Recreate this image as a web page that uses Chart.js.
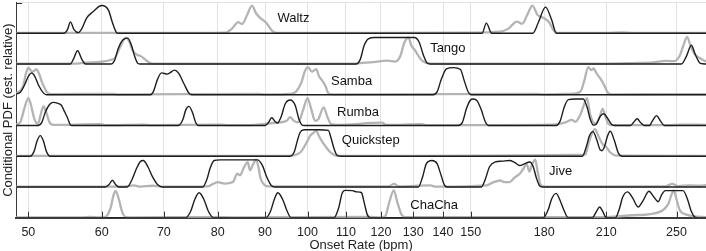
<!DOCTYPE html>
<html>
<head>
<meta charset="utf-8">
<script src="https://cdn.jsdelivr.net/npm/chart.js@4/dist/chart.umd.min.js"></script>
<style>
    html, body { margin: 0; padding: 0; background: #fff; }
    #chart { display: block; }
</style>
</head>
<body>
<canvas id="chart" width="706" height="251"></canvas>
<script>
// onset rate axis (bpm)
const xTicks = [50, 60, 70, 80, 90, 100, 110, 120, 130, 140, 150, 180, 210, 250];
const xMin = 48.5;
const xMax = 269;

// dances, top to bottom
const dances = ["Waltz", "Tango", "Samba", "Rumba", "Quickstep", "Jive", "ChaCha"];

// [bpm, relative density]; black = estimate, gray = reference
const waltzBlack = [[48.5, 0], [54.6, 0], [55.1, 0.12], [55.5, 0.37], [56.0, 0.12], [56.6, 0.02], [57.1, 0.15], [57.8, 0.5], [58.7, 0.7], [60.0, 0.9], [61.0, 0.75], [61.6, 0.35], [62.2, 0.03], [62.5, 0],
    [154.3, 0], [155.9, 0.33], [158.0, 0], [175.0, 0], [177.4, 0.35], [180.6, 0.85], [183.3, 0.45], [185.5, 0], [269, 0]];
const waltzGray = [[48.5, 0.01], [70, 0.01], [81.5, 0.02], [82.9, 0.15], [84.2, 0.36], [85.0, 0.3], [86.1, 0.6], [87.1, 0.9], [88.0, 0.65], [88.9, 0.5], [90.2, 0.35], [91.6, 0.08], [92.8, 0.01],
    [120, 0.01], [150, 0.02], [161.2, 0.05], [164.7, 0.15], [168.2, 0.38], [170.5, 0.31], [172.6, 0.6], [174.8, 0.9], [177.0, 0.6], [180.0, 0.49], [182.3, 0.35], [184.0, 0.12], [186.0, 0.01], [210, 0.01], [218, 0.03], [225, 0.01], [269, 0.01]];

const tangoBlack = [[48.5, 0], [55.5, 0], [55.9, 0.15], [56.5, 0.43], [57.1, 0.15], [57.6, 0], [61.4, 0], [61.9, 0.1], [62.5, 0.5], [63.2, 0.78], [64.0, 0.84], [64.6, 0.6], [65.1, 0.25], [65.6, 0.02], [65.9, 0],
    [112.8, 0], [114.0, 0.15], [115.1, 0.6], [116.3, 0.82], [118.1, 0.86], [124.4, 0.86], [130.4, 0.86], [132.0, 0.7], [133.3, 0.3], [134.6, 0.03], [135.6, 0],
    [253.1, 0], [256.2, 0.25], [259.4, 0.61], [262.0, 0.3], [265.3, 0.02], [269, 0]];
const tangoGray = [[48.5, 0.01], [56.1, 0.01], [57.6, 0.04], [59.8, 0.07], [61.3, 0.13], [62.0, 0.2], [62.8, 0.55], [63.7, 0.86], [64.2, 0.75], [64.8, 0.43], [65.5, 0.3], [66.0, 0.27], [66.8, 0.15], [67.7, 0.03], [68.5, 0.01],
    [112, 0.01], [114.0, 0.03], [117.8, 0.06], [121.9, 0.11], [124.4, 0.08], [125.9, 0.25], [127.2, 0.7], [128.5, 0.86], [129.4, 0.6], [130.7, 0.43], [131.8, 0.25], [133.0, 0.1], [135.6, 0.01],
    [206.9, 0.01], [224.7, 0.03], [235.7, 0.05], [243.8, 0.1], [248.2, 0.09], [252.0, 0.27], [254.3, 0.6], [256.7, 0.88], [258.8, 0.6], [261.4, 0.33], [265.9, 0.16], [269, 0.08]];

const sambaBlack = [[48.5, 0.02], [49.0, 0.08], [49.5, 0.3], [50.0, 0.6], [50.4, 0.71], [50.8, 0.6], [51.3, 0.3], [51.9, 0.06], [52.3, 0],
    [67.7, 0], [68.2, 0.1], [68.9, 0.5], [69.6, 0.71], [70.6, 0.67], [71.1, 0.72], [71.9, 0.8], [72.6, 0.7], [73.6, 0.35], [74.5, 0.05], [75.0, 0],
    [136.6, 0], [138.0, 0.1], [139.4, 0.5], [141.2, 0.84], [143.7, 0.88], [146.2, 0.82], [147.6, 0.45], [149.1, 0.08], [150.2, 0], [269, 0]];
const sambaGray = [[48.5, 0.05], [49.1, 0.15], [49.4, 0.32], [49.7, 0.7], [50.0, 0.87], [50.5, 0.75], [51.0, 0.82], [51.4, 0.65], [51.7, 0.42], [52.0, 0.25], [52.3, 0.1], [52.8, 0.02],
    [61.9, 0.03], [62.4, 0.01], [88.5, 0.03], [90, 0.01], [95.8, 0.03], [97.2, 0.1], [98.5, 0.4], [99.3, 0.75], [100.1, 0.9], [101.1, 0.75], [102.2, 0.83], [102.9, 0.6], [103.6, 0.48], [104.5, 0.3], [105.3, 0.05], [106.5, 0.01],
    [176.5, 0.03], [180, 0.01], [191.6, 0.03], [196.9, 0.1], [198.8, 0.45], [200.8, 0.9], [202.3, 0.8], [203.5, 0.86], [204.9, 0.7], [206.9, 0.53], [209.0, 0.3], [211.0, 0.05], [213.2, 0.01], [247.4, 0.02], [269, 0.02]];

const rumbaBlack = [[48.5, 0], [51.2, 0], [51.7, 0.1], [52.1, 0.4], [52.7, 0.68], [53.2, 0.75], [53.8, 0.72], [54.3, 0.65], [54.6, 0.5], [55.1, 0.25], [55.5, 0.02], [55.7, 0],
    [72.6, 0], [73.4, 0.2], [73.9, 0.5], [74.5, 0.62], [75.2, 0.4], [75.7, 0.12], [76.2, 0],
    [90.0, 0], [90.7, 0.08], [91.5, 0.25], [92.3, 0.12], [92.8, 0.08], [93.7, 0.3], [94.6, 0.7], [95.8, 0.83], [97.0, 0.65], [97.9, 0.2], [98.7, 0.01], [99.2, 0],
    [145.4, 0], [146.9, 0.1], [148.4, 0.55], [149.8, 0.82], [150.9, 0.86], [152.4, 0.8], [154.0, 0.5], [155.5, 0.12], [156.7, 0],
    [185.5, 0], [187.3, 0.15], [189.2, 0.6], [191.1, 0.84], [194.5, 0.86], [198.3, 0.86], [200.2, 0.6], [201.8, 0.2], [203.4, 0.01], [204.9, 0.05], [206.9, 0.3], [208.6, 0.38], [210.5, 0.25], [212.7, 0.04], [214.3, 0],
    [223.0, 0], [224.7, 0.1], [226.8, 0.22], [228.6, 0.1], [230.8, 0], [233.7, 0], [235.5, 0.15], [237.9, 0.32], [240.2, 0.15], [242.6, 0], [269, 0]];
const rumbaGray = [[48.5, 0.03], [49.0, 0.1], [49.5, 0.55], [50.0, 0.89], [50.3, 0.7], [50.7, 0.25], [51.0, 0.08], [51.2, 0.05], [51.5, 0.3], [51.9, 0.62], [52.3, 0.4], [52.7, 0.1], [53.2, 0.02],
    [59.8, 0.04], [60.5, 0.01], [66.5, 0.03], [68, 0.01], [80.5, 0.03], [82, 0.01], [87.8, 0.02], [90.0, 0.05], [91.6, 0.08], [94.9, 0.15], [95.8, 0.27], [96.7, 0.15], [97.7, 0.1], [98.9, 0.5], [100.0, 0.89], [100.9, 0.55], [101.9, 0.15], [102.7, 0.2], [104.1, 0.59], [105.0, 0.3], [106.0, 0.05], [107.4, 0.02],
    [120.3, 0.09], [121.6, 0.02], [132.8, 0.04], [134.2, 0.01], [184.1, 0.03], [189.7, 0.1], [192.8, 0.18], [194.5, 0.12], [196.9, 0.35], [198.8, 0.7], [200.2, 0.89], [201.8, 0.35], [204.4, 0.06], [206.4, 0.25], [208.1, 0.54], [209.5, 0.3], [211.1, 0.05], [213.2, 0.01],
    [245, 0.01], [252.5, 0.03], [269, 0.02]];

const quickstepBlack = [[48.5, 0], [50.2, 0], [50.7, 0.15], [51.1, 0.5], [51.5, 0.67], [51.9, 0.5], [52.3, 0.15], [52.8, 0],
    [95.8, 0], [96.8, 0.15], [97.5, 0.5], [98.2, 0.78], [99.2, 0.86], [102.7, 0.86], [105.3, 0.84], [106.0, 0.6], [106.8, 0.25], [107.6, 0.03], [108.5, 0],
    [197.9, 0], [199.8, 0.3], [201.3, 0.65], [203.2, 0.8], [205.0, 0.55], [206.9, 0.2], [207.8, 0.18], [209.0, 0.3], [210.6, 0.65], [212.1, 0.81], [214.3, 0.5], [216.4, 0.1], [218.6, 0], [269, 0]];
const quickstepGray = [[48.5, 0.01], [93.4, 0.01], [96.5, 0.03], [98.2, 0.12], [99.4, 0.35], [100.7, 0.67], [101.4, 0.75], [102.2, 0.83], [102.9, 0.65], [104.1, 0.4], [105.0, 0.25], [105.8, 0.13], [107.1, 0.03], [108.5, 0.01],
    [199.3, 0.05], [201.3, 0.5], [204.1, 0.88], [206.0, 0.65], [208.0, 0.4], [210.0, 0.3], [212.1, 0.12], [215.3, 0.02], [269, 0.01]];

const jiveBlack = [[48.5, 0], [60.5, 0], [61.1, 0.08], [61.6, 0.22], [62.1, 0.08], [62.6, 0],
    [63.9, 0], [64.7, 0.25], [65.4, 0.6], [66.0, 0.82], [66.5, 0.86], [67.3, 0.65], [68.0, 0.35], [68.9, 0.08], [69.8, 0],
    [77.1, 0], [77.9, 0.25], [78.5, 0.6], [79.3, 0.86], [80.5, 0.88], [84.6, 0.88], [88.3, 0.88], [89.4, 0.7], [90.3, 0.35], [91.4, 0.05], [92.3, 0],
    [131.7, 0], [133.0, 0.3], [134.3, 0.75], [136.2, 0.86], [138.0, 0.75], [139.1, 0.45], [140.5, 0.06], [141.5, 0],
    [154.0, 0], [155.5, 0.25], [157.1, 0.65], [159.2, 0.81], [162.2, 0.84], [165.2, 0.86], [167.2, 0.8], [169.4, 0.7], [171.3, 0.75], [173.6, 0.81], [175.2, 0.65], [176.5, 0.3], [178.0, 0.03], [179.1, 0], [269, 0]];
const jiveGray = [[48.5, 0.01], [63, 0.01], [65.0, 0.05], [66, 0.01], [68.1, 0.04], [69.5, 0.01], [78.0, 0.02], [79.1, 0.1], [80.0, 0.16], [81.4, 0.11], [83.1, 0.16], [84.0, 0.43], [84.6, 0.38], [85.3, 0.6], [86.2, 0.81], [86.7, 0.54], [87.4, 0.75], [88.0, 0.89], [88.6, 0.6], [88.9, 0.33], [89.6, 0.11], [90.7, 0.02],
    [122.3, 0.02], [124.0, 0.1], [125.4, 0.02], [135.6, 0.05], [137.6, 0.01], [156.0, 0.05], [158.5, 0.15], [161.3, 0.21], [163.0, 0.16], [165.2, 0.16], [167.2, 0.3], [169.4, 0.43], [171.0, 0.6], [172.3, 0.75], [173.5, 0.5], [174.5, 0.7], [176.0, 0.89], [177.1, 0.5], [178.3, 0.08], [180.2, 0.01],
    [243.2, 0.02], [247.5, 0.1], [250.7, 0.03], [258.8, 0.05], [265, 0.04], [269, 0.06]];

const chachaBlack = [[48.5, 0], [73.9, 0], [74.8, 0.2], [75.6, 0.6], [76.4, 0.81], [77.3, 0.6], [78.2, 0.2], [79.2, 0],
    [90.2, 0], [91.2, 0.2], [92.1, 0.6], [92.9, 0.81], [94.0, 0.6], [95.1, 0.2], [96.0, 0],
    [106.8, 0], [108.0, 0.3], [109.0, 0.8], [109.8, 0.89], [111.8, 0.88], [113.0, 0.84], [114.3, 0.82], [115.1, 0.5], [116.0, 0.1], [116.9, 0],
    [179.6, 0], [182.0, 0.3], [183.3, 0.6], [185.4, 0.79], [187.0, 0.6], [189.0, 0.25], [191.0, 0],
    [202.8, 0], [204.9, 0.2], [206.6, 0.35], [208.2, 0.2], [210.0, 0],
    [214.8, 0], [217.0, 0.3], [218.6, 0.65], [221.4, 0.84], [224.1, 0.65], [227.3, 0.35], [230.0, 0.55], [233.5, 0.86], [236.0, 0.7], [238.9, 0.52], [241.0, 0.75], [243.1, 0.88], [247.5, 0.88], [254.1, 0.88], [256.9, 0.6], [259.4, 0.2], [261.6, 0.02], [263.3, 0], [269, 0]];
const chachaGray = [[48.5, 0.01], [57, 0.01], [58.3, 0.03], [59.5, 0.01], [60.5, 0.02], [61.3, 0.3], [61.8, 0.75], [62.1, 0.87], [62.6, 0.6], [63.1, 0.2], [63.6, 0.03], [64.5, 0.01],
    [78, 0.02], [84, 0.01], [116.9, 0.03], [119.8, 0.01], [121.3, 0.05], [122.5, 0.5], [123.9, 0.89], [125.0, 0.5], [126.3, 0.1], [127.5, 0.02],
    [210.0, 0.02], [224.0, 0.08], [234.3, 0.12], [241.9, 0.25], [245.0, 0.45], [246.9, 0.75], [248.3, 0.89], [250.0, 0.6], [252.0, 0.25], [256.3, 0.1], [260.5, 0.05], [269, 0.02]];

const blackSeries = [waltzBlack, tangoBlack, sambaBlack, rumbaBlack, quickstepBlack, jiveBlack, chachaBlack];
const graySeries = [waltzGray, tangoGray, sambaGray, rumbaGray, quickstepGray, jiveGray, chachaGray];

// where each dance name sits: [bpm, lift above its baseline in row units]
const nameAnchors = [[92.8, 0.49], [135.6, 0.49], [106.0, 0.43], [107.6, 0.44], [108.9, 0.51], [182.2, 0.49], [129.1, 0.41]];

const font = "'Liberation Sans', Arial, Helvetica, sans-serif";

function toRow(points, rowIndex) {
    const offset = dances.length - 1 - rowIndex;
    return points.map(p => ({x: p[0], y: offset + p[1]}));
}

const datasets = [];
dances.forEach((name, i) => {
    datasets.push({
        label: name + " (est.)",
        data: toRow(blackSeries[i], i),
        borderColor: "#1d1d1d",
        borderWidth: 1.4,
        pointRadius: 0,
        cubicInterpolationMode: "monotone",
        fill: false,
        order: 0
    });
    datasets.push({
        label: name,
        data: toRow(graySeries[i], i),
        borderColor: "#b4b4b4",
        borderWidth: 2.3,
        pointRadius: 0,
        cubicInterpolationMode: "monotone",
        fill: false,
        order: 1
    });
});

const decorations = {
    id: "decorations",
    afterDatasetsDraw(chart) {
        const ctx = chart.ctx;
        const xs = chart.scales.x;
        const ys = chart.scales.y;
        const area = chart.chartArea;
        ctx.save();
        // inward tick marks
        ctx.strokeStyle = "#333";
        ctx.lineWidth = 1;
        ctx.beginPath();
        xTicks.forEach(v => {
            const px = Math.round(xs.getPixelForValue(v)) + 0.5;
            ctx.moveTo(px, area.bottom);
            ctx.lineTo(px, area.bottom - 6);
        });
        ctx.moveTo(area.left, Math.round(area.top) + 0.5);
        ctx.lineTo(area.left + 6, Math.round(area.top) + 0.5);
        ctx.stroke();
        // dance names
        ctx.fillStyle = "#111";
        ctx.font = "13px " + font;
        ctx.textAlign = "left";
        ctx.textBaseline = "middle";
        dances.forEach((name, i) => {
            const offset = dances.length - 1 - i;
            const a = nameAnchors[i];
            ctx.fillText(name, xs.getPixelForValue(a[0]), ys.getPixelForValue(offset + a[1]));
        });
        ctx.restore();
    }
};

new Chart(document.getElementById("chart"), {
    type: "line",
    data: {datasets: datasets},
    plugins: [decorations],
    options: {
        responsive: false,
        animation: false,
        devicePixelRatio: 1,
        layout: {padding: {top: 2.5, right: 0, bottom: 0, left: 0.5}},
        plugins: {
            legend: {display: false},
            tooltip: {enabled: false}
        },
        scales: {
            x: {
                type: "logarithmic",
                min: xMin,
                max: xMax,
                afterBuildTicks: scale => {
                    scale.ticks = xTicks.map(v => ({value: v}));
                },
                afterFit: scale => {
                    scale.height = 33.3;
                },
                ticks: {
                    autoSkip: false,
                    maxRotation: 0,
                    padding: 9,
                    color: "#222",
                    font: {family: font, size: 12.5, lineHeight: 1.0},
                    callback: v => String(v)
                },
                grid: {color: "#e2e2e2", lineWidth: 1, drawTicks: false},
                border: {color: "#3a3a3a", width: 2},
                title: {
                    display: true,
                    text: "Onset Rate (bpm)",
                    color: "#222",
                    font: {family: font, size: 13, lineHeight: 0.8},
                    padding: {top: 0, bottom: 0}
                }
            },
            y: {
                type: "linear",
                min: 0,
                max: 7,
                afterBuildTicks: scale => {
                    scale.ticks = [{value: 7}];
                },
                ticks: {display: false},
                grid: {color: "#e2e2e2", lineWidth: 1, drawTicks: false},
                border: {color: "#3a3a3a", width: 1},
                title: {
                    display: true,
                    text: "Conditional PDF (est. relative)",
                    color: "#222",
                    font: {family: font, size: 13, lineHeight: 1.2},
                    padding: {top: 0, bottom: 0}
                }
            }
        }
    }
});
</script>
</body>
</html>
